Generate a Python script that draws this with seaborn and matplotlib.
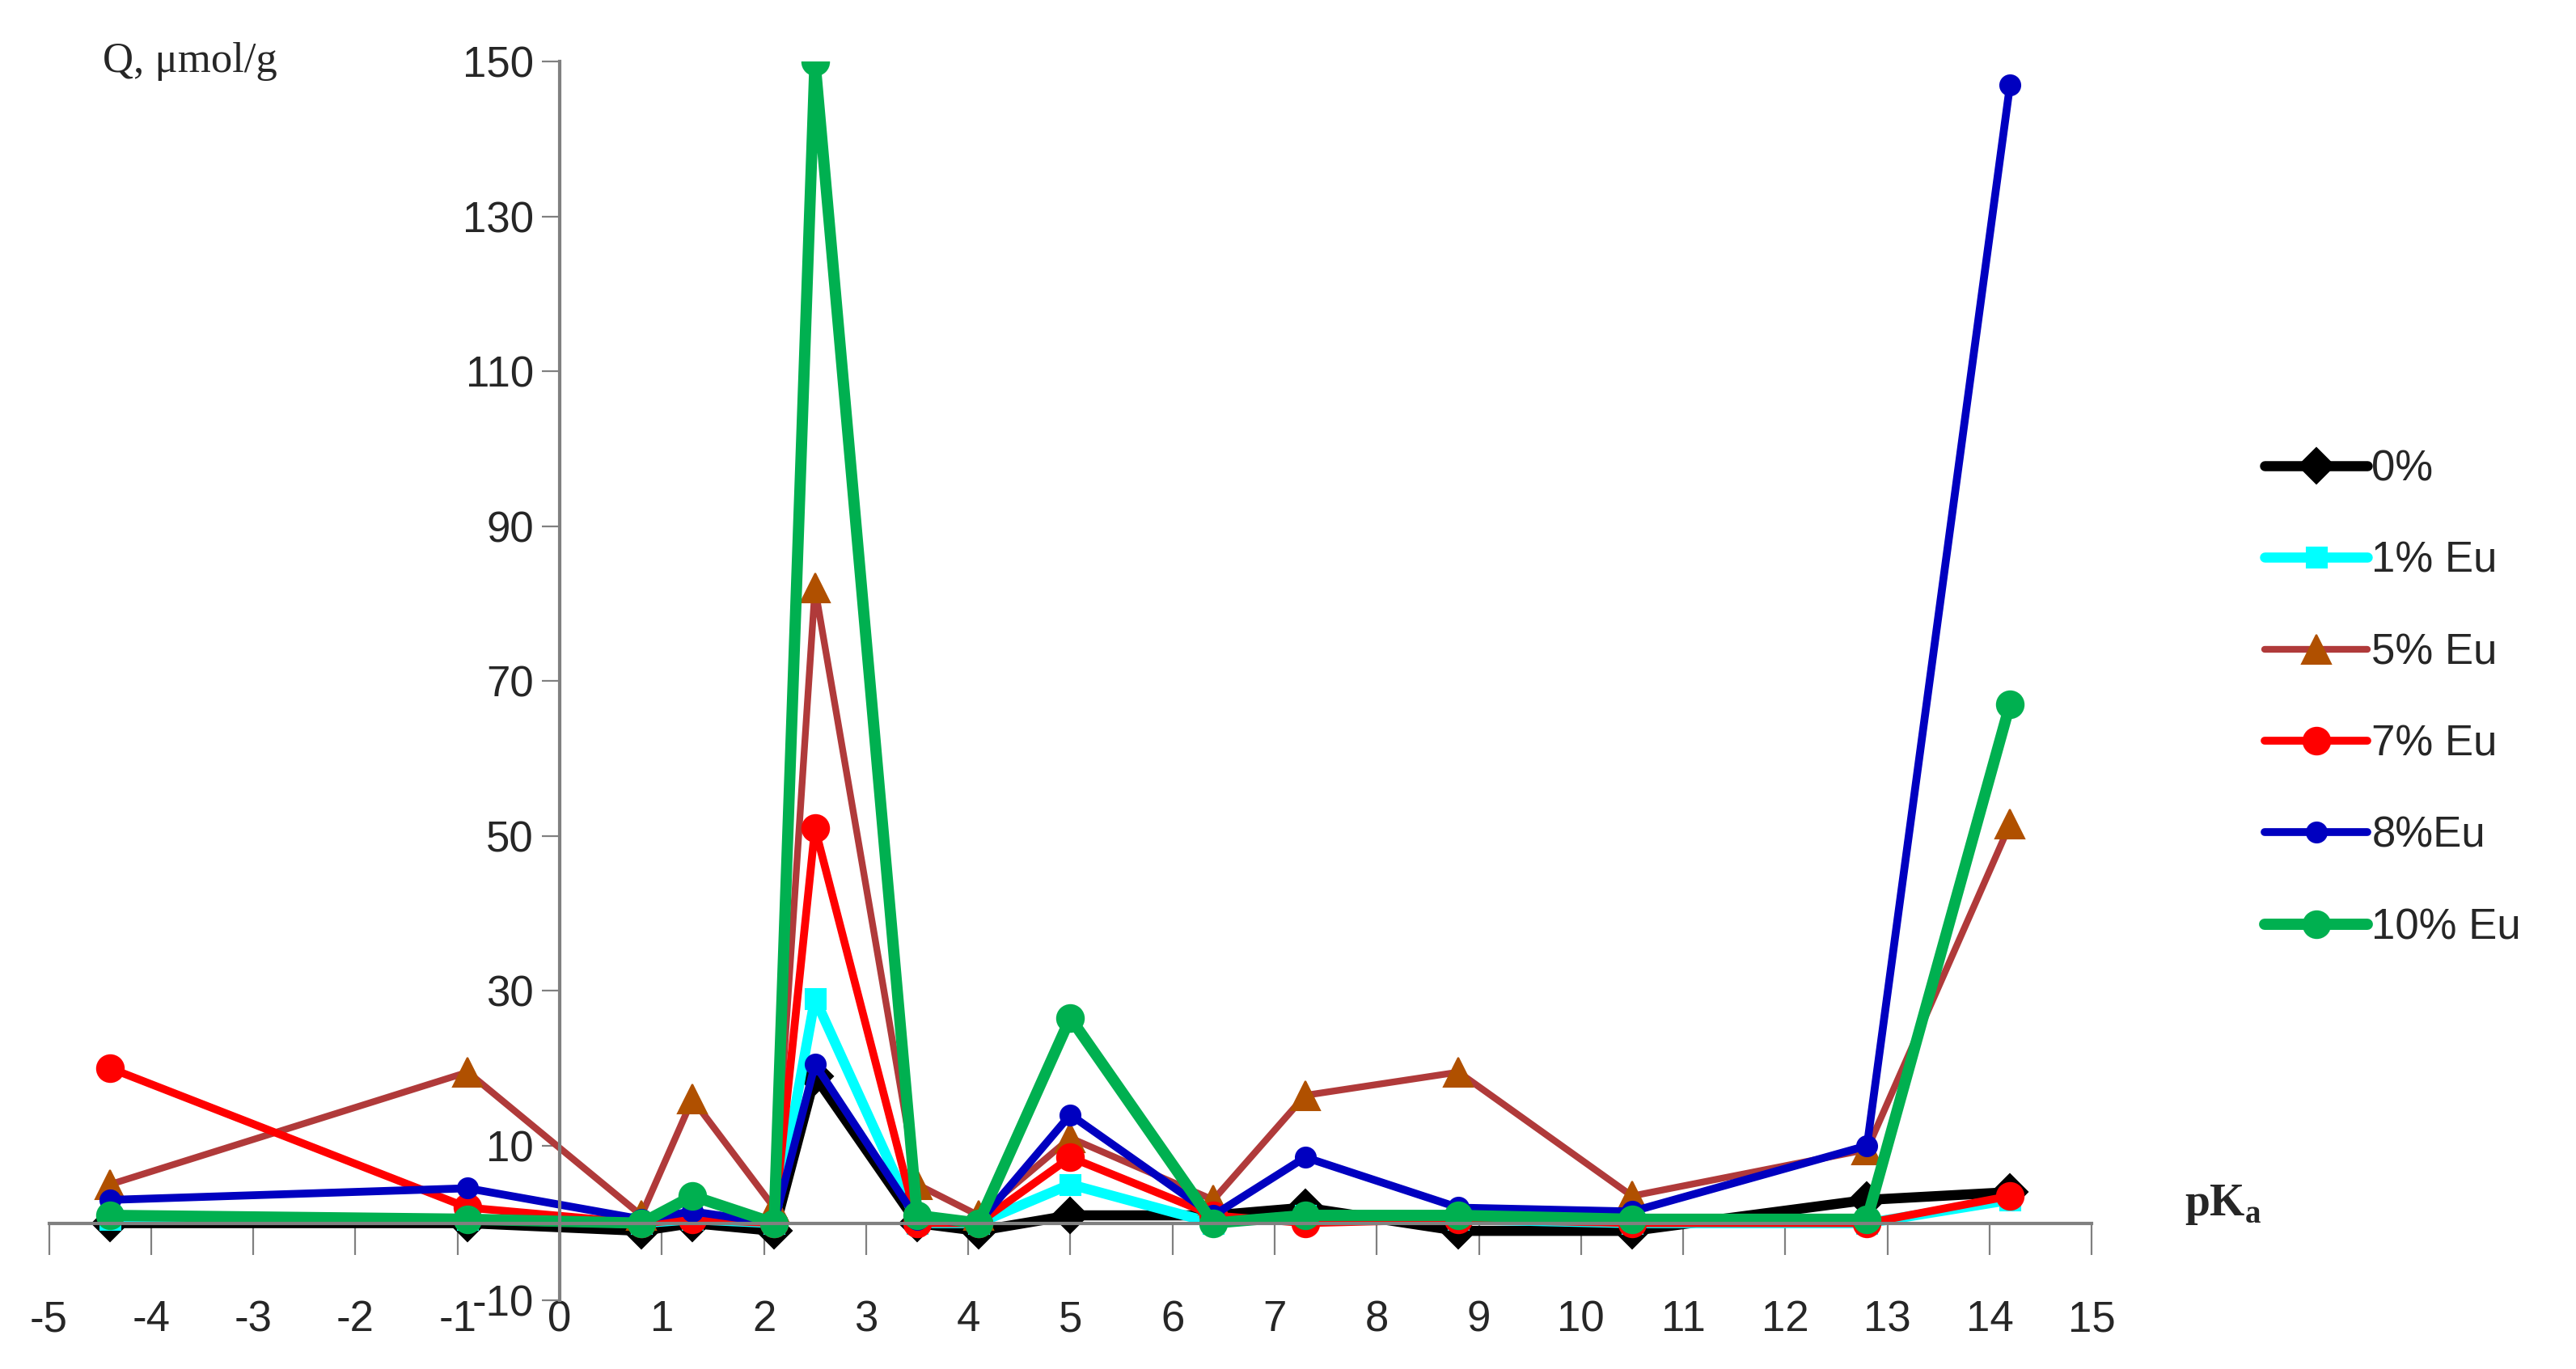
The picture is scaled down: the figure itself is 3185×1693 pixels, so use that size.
import numpy as np
import pandas as pd
import matplotlib
matplotlib.use("Agg")
import matplotlib.pyplot as plt
import seaborn as sns

# pKa positions and Q values
pka = [-4.4, -0.9, 0.8, 1.3, 2.1, 2.5, 3.5, 4.1, 5.0, 6.4, 7.3, 8.8, 10.5, 12.8, 14.2]
q_0 = [0, 0, -1, 0, -1, 19, 0, -1, 1, 1, 2, -1, -1, 3, 4]
q_1 = [0.5, 0.5, 0, 0.5, 0, 29, 0, 0, 5, 0, 1, 0.5, 0, 0, 3]
q_5 = [5, 19.5, 1, 16, 2, 82, 5, 1, 11, 3, 16.5, 19.5, 3.5, 9.5, 51.5]
q_7 = [20, 2, 0, 0.5, 0, 51, 0, 0, 8.5, 1, 0, 0.5, 0, 0, 3.5]
q_8 = [3, 4.5, 0.5, 1.5, 0, 20.5, 0.5, 0, 14, 1, 8.5, 2, 1.5, 10, 147]
q_10 = [1, 0.5, 0, 3.5, 0, 150, 1, 0, 26.5, 0, 1, 1, 0.5, 0.5, 67]

series = ["0%", "1% Eu", "5% Eu", "7% Eu", "8%Eu", "10% Eu"]
values = [q_0, q_1, q_5, q_7, q_8, q_10]

df = pd.concat([pd.DataFrame({"pKa": pka, "Q": v, "series": s}) for s, v in zip(series, values)])

styles = {
    "0%": dict(color="black", lw=4.5, marker="D", ms=11, mfc="black"),
    "1% Eu": dict(color="#00FFFF", lw=4.5, marker="s", ms=9, mfc="#00FFFF"),
    "5% Eu": dict(color="#B03A3A", lw=3, marker="^", ms=13, mfc="#B05000"),
    "7% Eu": dict(color="#FF0000", lw=3.5, marker="o", ms=12, mfc="#FF0000"),
    "8%Eu": dict(color="#0000C0", lw=3.5, marker="o", ms=9, mfc="#0000C0"),
    "10% Eu": dict(color="#00B050", lw=5, marker="o", ms=12, mfc="#00B050"),
}

sns.set_style("white")
plt.rcParams['font.family'] = ['Liberation Sans', 'DejaVu Sans']
plt.rcParams['axes.unicode_minus'] = False

fig = plt.figure(figsize=(15.925, 8.465), dpi=200)
ax = fig.add_axes([0.019, 0.05, 0.793, 0.905])

for s in series:
    st = styles[s]
    sns.lineplot(data=df[df["series"] == s], x="pKa", y="Q", ax=ax, label=s,
                 color=st["color"], lw=st["lw"], marker=st["marker"], markersize=st["ms"],
                 markerfacecolor=st["mfc"], markeredgecolor=st["mfc"], sort=False)

ax.set_xlim(-5, 15)
ax.set_ylim(-10, 150)
ax.set_xticks(range(-5, 16))
ax.set_yticks(range(-10, 151, 20))
ax.spines["left"].set_position(("data", 0))
ax.spines["bottom"].set_position(("data", 0))
ax.spines["top"].set_visible(False)
ax.spines["right"].set_visible(False)
for sp in ["left", "bottom"]:
    ax.spines[sp].set_color("#808080")
    ax.spines[sp].set_linewidth(1.5)
ax.tick_params(axis="x", direction="out", length=14, color="#808080", pad=20, labelsize=19, bottom=True)
ax.tick_params(axis="y", direction="out", length=8, color="#808080", labelsize=19, left=True)
ax.set_xlabel("")
ax.set_ylabel("")

fig.text(0.04, 0.955, "Q, μmol/g", family="Liberation Serif", fontsize=19, ha="left", va="center")
fig.text(0.848, 0.12, "pK$_\\mathregular{a}$", family="Liberation Serif", fontsize=20,
         fontweight="bold", ha="left", va="center")

leg = ax.legend(loc="center left", bbox_to_anchor=(1.066, 0.486), frameon=False, fontsize=19,
                handlelength=2.4, labelspacing=1.2, handletextpad=0.1)

fig.savefig("out.png", dpi=200)
